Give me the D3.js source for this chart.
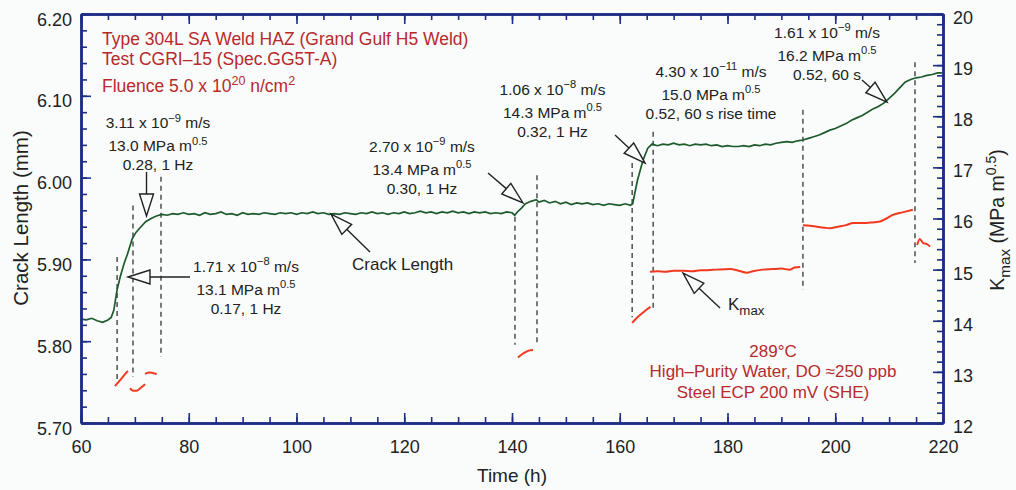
<!DOCTYPE html>
<html>
<head>
<meta charset="utf-8">
<script src="https://cdn.jsdelivr.net/npm/d3@7"></script>
<style>
  body { margin: 0; background: #f9fcfb; }
  svg { display: block; font-family: "Liberation Sans", Arial, sans-serif; }
</style>
</head>
<body>
<div id="chart"></div>
<script>
// ---- data ----
const crackLength = [
  [60,5.827],[61,5.826],[62,5.828],[63,5.825],[64,5.823],[65,5.826],[65.6,5.829],[66.1,5.838],
  [66.7,5.863],[67.3,5.879],[68,5.895],[68.6,5.906],[69.5,5.925],[70.2,5.933],[71,5.939],
  [72,5.946],[73,5.950],[74,5.953],[75,5.955],[76,5.954],[77,5.956],[78,5.955],[79,5.957],
  [80,5.955],[81,5.956],[82,5.954],[83,5.957],[84,5.955],[85,5.956],[86,5.958],[87,5.955],
  [88,5.956],[89,5.954],[90,5.957],[91,5.955],[92,5.956],[93,5.955],[94,5.957],[95,5.956],
  [96,5.955],[97,5.957],[98,5.956],[99,5.957],[100,5.955],[101,5.957],[102,5.956],[103,5.958],
  [104,5.956],[105,5.957],[106,5.955],[107,5.956],[108,5.955],[109,5.957],[110,5.956],
  [111,5.955],[112,5.957],[113,5.956],[114,5.958],[115,5.956],[116,5.957],[117,5.955],
  [118,5.957],[119,5.956],[120,5.958],[121,5.956],[122,5.957],[123,5.959],[124,5.957],
  [125,5.958],[126,5.956],[127,5.958],[128,5.957],[129,5.959],[130,5.957],[131,5.958],
  [132,5.956],[133,5.958],[134,5.957],[135,5.958],[136,5.956],[137,5.957],[138,5.956],
  [139,5.958],[140,5.957],[140.5,5.954],[141,5.958],[141.8,5.963],[142.5,5.968],[143.5,5.971],
  [144.5,5.973],[145,5.970],[146,5.972],[147,5.969],[148,5.971],[149,5.968],[150,5.970],
  [151,5.967],[152,5.969],[153,5.968],[154,5.969],[155,5.967],[156,5.968],[157,5.966],
  [158,5.968],[159,5.967],[160,5.966],[161,5.968],[162,5.966],[162.4,5.968],[163.3,5.997],
  [164.3,6.021],[165.2,6.036],[166,6.041],[167,6.039],[168,6.041],[169,6.040],[170,6.042],
  [171,6.040],[172,6.041],[173,6.039],[174,6.041],[175,6.040],[176,6.041],[177,6.039],
  [178,6.040],[179,6.038],[180,6.039],[181,6.038],[182,6.038],[183,6.039],[184,6.038],
  [185,6.040],[186,6.039],[187,6.041],[188,6.040],[189,6.042],[190,6.043],[191,6.044],
  [192,6.043],[193,6.045],[194,6.046],[195,6.048],[196,6.050],[197,6.052],[198,6.055],
  [199,6.058],[200,6.060],[201,6.063],[202,6.066],[203,6.070],[204,6.073],[205,6.076],
  [206,6.080],[207,6.084],[208,6.087],[209,6.091],[210,6.097],[211,6.103],[212,6.110],
  [213,6.117],[214,6.120],[215,6.122],[216,6.123],[217,6.125],[218,6.126],[219,6.128],[219.8,6.128]
];

const kmaxRuns = [
  [[66.3,12.72],[67.5,12.87],[68.7,13.02]],
  [[69.1,12.68],[69.7,12.63],[70.3,12.63],[71.1,12.69],[71.9,12.76]],
  [[71.9,12.96],[72.6,12.99],[73.3,12.98],[74.05,12.96]],
  [[141.1,13.28],[141.8,13.34],[142.6,13.39],[143.3,13.42],[143.9,13.43]],
  [[162.3,13.96],[163.2,14.06],[164.1,14.14],[164.9,14.21],[165.7,14.27]],
  [[165.6,14.96],[167,14.97],[168.5,14.96],[170,14.98],[171.7,14.98],[173.5,14.97],[175,14.99],
   [176.2,14.99],[178,15.0],[180.5,15.01],[182,14.98],[183.6,14.94],[184.7,14.97],[186.5,15.0],
   [188.4,15.01],[190,15.02],[191.5,15.0],[192.5,15.04],[193.5,15.05]],
  [[194,15.87],[195.3,15.86],[196.6,15.84],[198,15.82],[199,15.81],[200.5,15.84],[202,15.87],
   [203.3,15.91],[205,15.91],[206.5,15.92],[208.3,15.94],[209.5,16.0],[210.7,16.07],
   [212.5,16.12],[214.4,16.17]],
  [[215.2,15.48],[215.7,15.60],[216.3,15.52],[217,15.50],[217.6,15.45]]
];

// dashed markers: time, top (crack length mm), bottom (Kmax)
const markerTimes = [66.7, 69.65, 74.85, 140.55, 144.64, 162.3, 166.2, 194.0, 214.8];
const markerTops  = [5.903, 5.966, 6.001, 5.952, 6.003, 6.018, 6.056, 6.083, 6.141];
const markerBottoms = [12.84, 12.90, 13.29, 13.53, 13.53, 14.07, 14.21, 14.60, 15.13];

const timeTicks = d3.range(60, 221, 20);
const crackTicks = [5.70, 5.80, 5.90, 6.00, 6.10, 6.20];
const kmaxTicks = d3.range(12, 21, 1);

const notes = [
  ["3.11 x 10^{−9} m/s", "13.0 MPa m^{0.5}", "0.28, 1 Hz"],
  ["1.71 x 10^{−8} m/s", "13.1 MPa m^{0.5}", "0.17, 1 Hz"],
  ["2.70 x 10^{−9} m/s", "13.4 MPa m^{0.5}", "0.30, 1 Hz"],
  ["1.06 x 10^{−8} m/s", "14.3 MPa m^{0.5}", "0.32, 1 Hz"],
  ["4.30 x 10^{−11} m/s", "15.0 MPa m^{0.5}", "0.52, 60 s rise time"],
  ["1.61 x 10^{−9} m/s", "16.2 MPa m^{0.5}", "0.52, 60 s"]
];
const titleLines = ["Type 304L SA Weld HAZ (Grand Gulf H5 Weld)", "Test CGRI–15 (Spec.GG5T-A)",
  "Fluence 5.0 x 10^{20} n/cm^{2}"];
const envLines = ["289°C", "High–Purity Water, DO ≈250 ppb", "Steel ECP 200 mV (SHE)"];

// arrows: [t1, v1, t2 (tip), v2 (tip)] in crack length units
const arrows = [
  [72.16, 6.0069, 72.16, 5.953],
  [80.23, 5.8785, 68.72, 5.8785],
  [113.64, 5.909, 106.40, 5.9555],
  [135.55, 6.0056, 142.04, 5.969],
  [159.12, 6.052, 164.69, 6.0178],
  [204.96, 6.1193, 209.6, 6.0924]
];
const kmaxArrow = [178.61, 14.25, 171.74, 14.93];

// ---- drawing ----
const W = 1016, H = 490;
const bg = "#f9fcfb", axisColor = "#1f2c86", ink = "#222", redText = "#b8292c";

const svg = d3.select("#chart").append("svg").attr("width", W).attr("height", H);
svg.append("rect").attr("width", W).attr("height", H).attr("fill", bg);

const x = d3.scaleLinear().domain([60, 220]).range([81, 943]);
const y = d3.scaleLinear().domain([5.70, 6.20]).range([423, 14]);
const yK = d3.scaleLinear().domain([12, 20]).range([423, 14]);

function rich(sel, str, size) {
  const parts = str.split(/(\^\{[^}]*\}|_\{[^}]*\})/).filter(s => s.length);
  let back = 0;
  parts.forEach(p => {
    if (p.startsWith("^{")) {
      sel.append("tspan").attr("dy", -0.42 * size).attr("font-size", 0.72 * size).text(p.slice(2, -1));
      back = 0.42 * size;
    } else if (p.startsWith("_{")) {
      sel.append("tspan").attr("dy", 0.3 * size).attr("font-size", 0.78 * size).text(p.slice(2, -1));
      back = -0.3 * size;
    } else {
      sel.append("tspan").attr("dy", back).text(p);
      back = 0;
    }
  });
  return sel;
}

// dashed markers
svg.append("g").selectAll("line").data(markerTimes).join("line")
  .attr("x1", d => x(d)).attr("x2", d => x(d))
  .attr("y1", (d, i) => y(markerTops[i]))
  .attr("y2", (d, i) => yK(markerBottoms[i]))
  .attr("stroke", "#333").attr("stroke-width", 1.3).attr("stroke-dasharray", "5,4");

// Kmax runs
const kLine = d3.line().x(d => x(d[0])).y(d => yK(d[1])).curve(d3.curveMonotoneX);
svg.append("g").selectAll("path").data(kmaxRuns).join("path")
  .attr("d", kLine).attr("fill", "none").attr("stroke", "#f2381e").attr("stroke-width", 2);

// crack length
const cLine = d3.line().x(d => x(d[0])).y(d => y(d[1]));
svg.append("path").datum(crackLength).attr("d", cLine)
  .attr("fill", "none").attr("stroke", "#1d5a2c").attr("stroke-width", 1.7);

// arrows
function arrow(x1, y1, x2, y2) {
  const L = 22, w = 7;
  const a = Math.atan2(y2 - y1, x2 - x1);
  const bx = x2 - L * Math.cos(a), by = y2 - L * Math.sin(a);
  const g = svg.append("g");
  g.append("line").attr("x1", x1).attr("y1", y1).attr("x2", bx).attr("y2", by)
    .attr("stroke", ink).attr("stroke-width", 1.4);
  const px = -Math.sin(a) * w, py = Math.cos(a) * w;
  g.append("path")
    .attr("d", `M${x2},${y2}L${bx + px},${by + py}L${bx - px},${by - py}Z`)
    .attr("fill", bg).attr("stroke", ink).attr("stroke-width", 1.4);
}
arrows.forEach(a => arrow(x(a[0]), y(a[1]), x(a[2]), y(a[3])));
arrow(x(kmaxArrow[0]), yK(kmaxArrow[1]), x(kmaxArrow[2]), yK(kmaxArrow[3]));

// axes
function styleAxis(g) {
  g.select(".domain").attr("stroke", axisColor).attr("stroke-width", 2.5);
  g.selectAll(".tick line").attr("stroke", axisColor).attr("stroke-width", 1.6);
  g.selectAll("text").attr("fill", ink).attr("font-size", 18)
    .attr("font-family", "'Liberation Sans', Arial, sans-serif");
}
const noLabel = () => "";

svg.append("g").attr("transform", "translate(0,423)")
  .call(d3.axisBottom(x).tickValues(d3.range(60, 221, 5)).tickSize(-6).tickSizeOuter(0).tickFormat(noLabel))
  .call(styleAxis);
svg.append("g").attr("transform", "translate(0,423)")
  .call(d3.axisBottom(x).tickValues(timeTicks).tickSize(-10).tickSizeOuter(0).tickPadding(17))
  .call(styleAxis);
svg.append("g").attr("transform", "translate(0,14)")
  .call(d3.axisTop(x).tickValues(d3.range(60, 221, 5)).tickSize(-6).tickSizeOuter(0).tickFormat(noLabel))
  .call(styleAxis);
svg.append("g").attr("transform", "translate(0,14)")
  .call(d3.axisTop(x).tickValues(timeTicks).tickSize(-10).tickSizeOuter(0).tickFormat(noLabel))
  .call(styleAxis);

svg.append("g").attr("transform", "translate(81,0)")
  .call(d3.axisLeft(y).tickValues(d3.range(5.70, 6.201, 0.02)).tickSize(-6).tickSizeOuter(0).tickFormat(noLabel))
  .call(styleAxis);
svg.append("g").attr("transform", "translate(81,0)")
  .call(d3.axisLeft(y).tickValues(crackTicks).tickSize(-10).tickSizeOuter(0).tickPadding(9).tickFormat(d3.format(".2f")))
  .call(styleAxis)
  .call(g => g.selectAll("text").attr("dy", "0.62em"));

svg.append("g").attr("transform", "translate(943,0)")
  .call(d3.axisRight(yK).tickValues(d3.range(12, 20.01, 0.2)).tickSize(-6).tickSizeOuter(0).tickFormat(noLabel))
  .call(styleAxis);
svg.append("g").attr("transform", "translate(943,0)")
  .call(d3.axisRight(yK).tickValues(kmaxTicks).tickSize(-10).tickSizeOuter(0).tickPadding(10))
  .call(styleAxis)
  .call(g => g.selectAll("text").attr("dy", "0.52em"));

// axis titles
svg.append("text").attr("x", 512).attr("y", 482).attr("text-anchor", "middle")
  .attr("font-size", 19).attr("fill", ink).text("Time (h)");
svg.append("text").attr("transform", "translate(28,218) rotate(-90)").attr("text-anchor", "middle")
  .attr("font-size", 20.5).attr("fill", ink).text("Crack Length (mm)");
rich(svg.append("text").attr("transform", "translate(1004,220) rotate(-90)").attr("text-anchor", "middle")
  .attr("font-size", 19.5).attr("fill", ink), "K_{max} (MPa m^{0.5})", 19.5);

// annotation blocks (center x, first baseline, in data units)
const notePos = [[74.29, 6.0606], [90.63, 5.8846], [123.29, 6.0313], [147.52, 6.101], [176.94, 6.123], [198.47, 6.1707]];
const lineOffsets = [0, 23, 42];
notes.forEach((lines, i) => {
  lines.forEach((s, j) => {
    rich(svg.append("text").attr("x", x(notePos[i][0])).attr("y", y(notePos[i][1]) + lineOffsets[j])
      .attr("text-anchor", "middle").attr("font-size", 15.5).attr("fill", ink), s, 15.5);
  });
});

// series labels
svg.append("text").attr("x", 352).attr("y", 270).attr("font-size", 17).attr("fill", ink).text("Crack Length");
rich(svg.append("text").attr("x", 728).attr("y", 310).attr("font-size", 17).attr("fill", ink), "K_{max}", 17);

// red notes
const titleBase = [45, 65, 92];
titleLines.forEach((s, i) => {
  rich(svg.append("text").attr("x", 102).attr("y", titleBase[i]).attr("font-size", 17.5).attr("fill", redText), s, 17.5);
});
const envBase = [357, 377, 398];
envLines.forEach((s, i) => {
  svg.append("text").attr("x", 773).attr("y", envBase[i]).attr("text-anchor", "middle")
    .attr("font-size", 17).attr("fill", redText).text(s);
});
</script>
</body>
</html>
